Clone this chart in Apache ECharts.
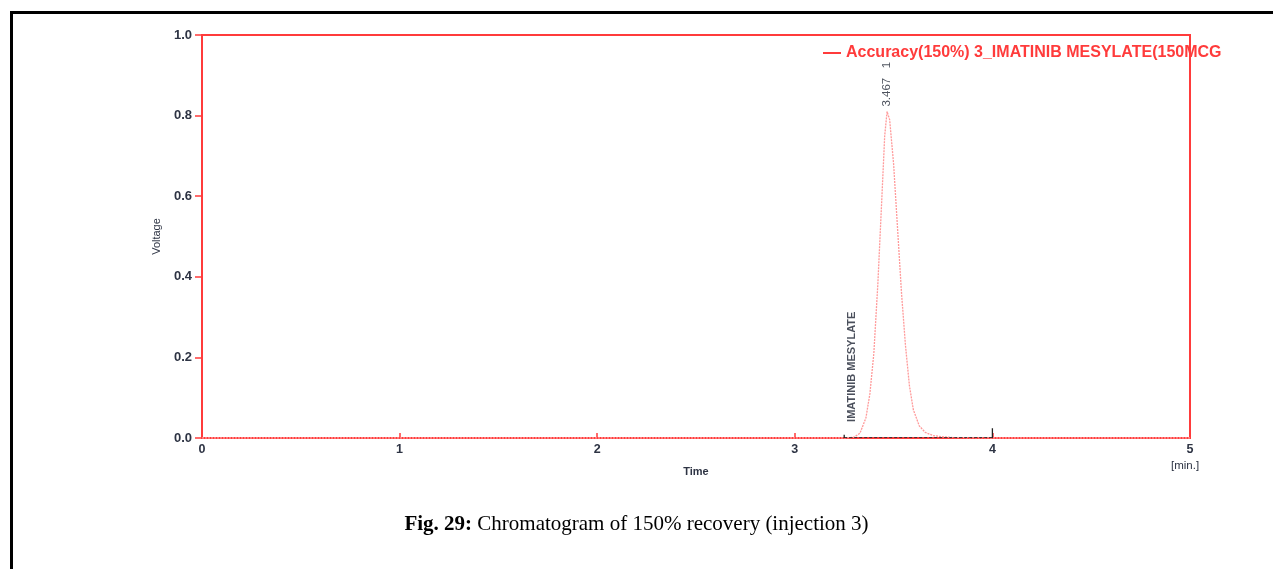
<!DOCTYPE html>
<html>
<head>
<meta charset="utf-8">
<script src="https://cdn.jsdelivr.net/npm/echarts@6/dist/echarts.min.js"></script>
<style>
html,body{margin:0;padding:0;background:#fff;}
#c{width:1273px;height:569px;}
</style>
</head>
<body>
<div id="c"></div>
<script>
// ---- data ----
const seriesName = 'Accuracy(150%) 3_IMATINIB MESYLATE(150MCG';
const xTicks = [0, 1, 2, 3, 4, 5];
const yTicks = [0.0, 0.2, 0.4, 0.6, 0.8, 1.0];
const times = [0, 1.0, 2.0, 3.0, 3.25, 3.30, 3.33, 3.36, 3.38, 3.40, 3.42, 3.44, 3.455, 3.467, 3.48, 3.50, 3.52, 3.54, 3.56, 3.58, 3.60, 3.63, 3.66, 3.70, 3.75, 3.80, 4.0, 4.5, 5.0];
const voltage = [0, 0, 0, 0, 0, 0.002, 0.012, 0.05, 0.11, 0.21, 0.38, 0.59, 0.75, 0.81, 0.79, 0.68, 0.52, 0.36, 0.23, 0.13, 0.07, 0.03, 0.014, 0.006, 0.003, 0.001, 0, 0, 0];
const peakTime = 3.467;
const peakHeight = 0.81;
const peakLabel = '3.467   1';
const compoundLabel = 'IMATINIB MESYLATE';
const baseStart = 3.25, baseEnd = 4.0;
const caption = ['Fig. 29:', ' Chromatogram of 150% recovery (injection 3)'];

const RED = '#ff3b3b';
const txt = '#2e3444';
const FF = 'Liberation Sans, Arial';

const chart = echarts.init(document.getElementById('c'));
chart.setOption({
  animation: false,
  backgroundColor: '#fff',
  grid: {left: 202, right: 83, top: 35, bottom: 131, show: true, borderColor: RED, borderWidth: 2, backgroundColor: 'transparent'},
  legend: {
    left: 818, top: 40, itemWidth: 18, itemHeight: 2, itemGap: 10,
    icon: 'rect',
    data: [{name: seriesName, itemStyle: {color: RED}}],
    textStyle: {color: RED, fontWeight: 'bold', fontSize: 16, fontFamily: FF},
    selectedMode: false
  },
  xAxis: {
    type: 'value', min: 0, max: 5, interval: 1,
    name: 'Time', nameLocation: 'middle', nameGap: 28,
    nameTextStyle: {color: txt, fontSize: 11, fontFamily: FF, fontWeight: 'bold'},
    axisLine: {lineStyle: {color: RED, width: 2}},
    axisTick: {inside: true, length: 5, lineStyle: {color: RED, width: 1.5}},
    axisLabel: {color: txt, fontSize: 12.5, fontWeight: 'bold', fontFamily: FF, margin: 5, formatter: v => String(v)},
    splitLine: {show: false}
  },
  yAxis: {
    type: 'value', min: 0, max: 1, interval: 0.2,
    name: 'Voltage', nameLocation: 'middle', nameGap: 40, nameRotate: 90,
    nameTextStyle: {color: txt, fontSize: 11, fontFamily: FF},
    axisLine: {lineStyle: {color: RED, width: 2}},
    axisTick: {length: 7, lineStyle: {color: RED, width: 1.5}},
    axisLabel: {color: txt, fontSize: 13, fontWeight: 'bold', fontFamily: FF, margin: 10, formatter: v => v.toFixed(1)},
    splitLine: {show: false}
  },
  series: [
    {
      name: seriesName, type: 'line', symbol: 'none',
      data: times.map((t, i) => [t, voltage[i]]),
      lineStyle: {color: '#ff9a9a', width: 1.3, type: [2, 1]},
      itemStyle: {color: RED},
      z: 3
    },
    {
      type: 'line', symbol: 'none', silent: true,
      data: [[baseStart, 0.001], [baseEnd, 0.001]],
      lineStyle: {color: '#333', width: 1, type: [3, 2]},
      z: 4
    },
    {
      type: 'line', symbol: 'none', silent: true, connectNulls: false,
      data: [[baseStart, 0], [baseStart, 0.008], [null, null], [baseEnd, 0], [baseEnd, 0.024]],
      lineStyle: {color: '#222', width: 1.3},
      z: 4
    },
    {
      type: 'scatter', symbolSize: 0, silent: true,
      data: [[peakTime, peakHeight]],
      label: {show: true, formatter: peakLabel, rotate: 90, position: 'top', distance: 5,
        color: '#222836', fontSize: 11.5, fontFamily: FF, align: 'left', verticalAlign: 'middle'}
    },
    {
      type: 'scatter', symbolSize: 0, silent: true,
      data: [[3.29, 0.04]],
      label: {show: true, formatter: compoundLabel, rotate: 90, position: 'inside', offset: [0, 0],
        color: '#1e2433', fontSize: 11, fontWeight: 'bold', fontFamily: 'Liberation Sans Narrow, Liberation Sans, Arial', align: 'left', verticalAlign: 'middle'}
    }
  ],
  graphic: [
    {type: 'rect', left: 9, top: 10, shape: {width: 1300, height: 620}, style: {fill: 'none', stroke: '#000', lineWidth: 3}, silent: true, z: 10},
    {type: 'text', left: 1171, top: 460, style: {text: '[min.]', fill: txt, fontSize: 11.5, fontFamily: FF}},
    {type: 'text', left: 'center', top: 514, style: {
      rich: {
        b: {fontFamily: 'Liberation Serif, Times New Roman', fontWeight: 'bold', fontSize: 21, fill: '#000'},
        n: {fontFamily: 'Liberation Serif, Times New Roman', fontSize: 21, fill: '#000'}
      },
      text: '{b|' + caption[0] + '}{n|' + caption[1] + '}'
    }}
  ]
});
</script>
</body>
</html>
